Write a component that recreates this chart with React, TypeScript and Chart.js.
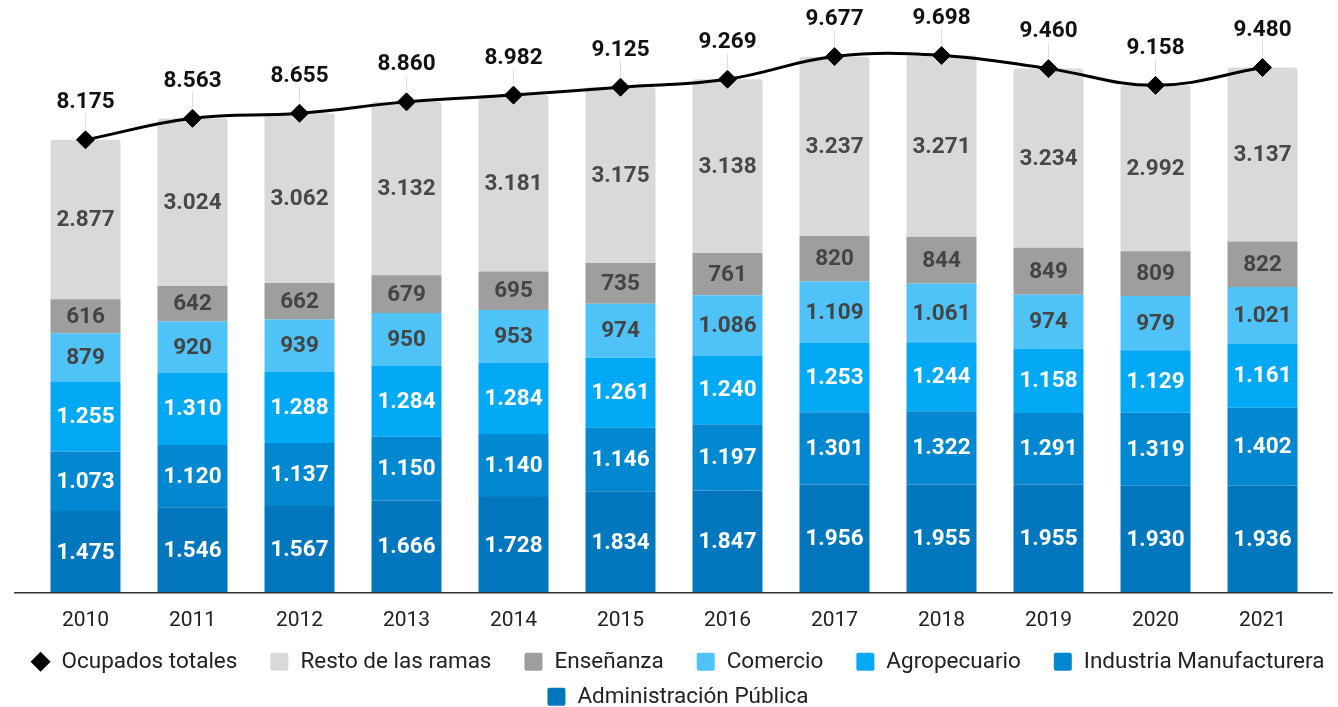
import React, { useEffect, useRef } from 'react';
import { Chart, registerables } from 'chart.js';

Chart.register(...registerables);

const years = ['2010', '2011', '2012', '2013', '2014', '2015', '2016', '2017', '2018', '2019', '2020', '2021'];
const administracion = [1475, 1546, 1567, 1666, 1728, 1834, 1847, 1956, 1955, 1955, 1930, 1936];
const industria = [1073, 1120, 1137, 1150, 1140, 1146, 1197, 1301, 1322, 1291, 1319, 1402];
const agropecuario = [1255, 1310, 1288, 1284, 1284, 1261, 1240, 1253, 1244, 1158, 1129, 1161];
const comercio = [879, 920, 939, 950, 953, 974, 1086, 1109, 1061, 974, 979, 1021];
const ensenanza = [616, 642, 662, 679, 695, 735, 761, 820, 844, 849, 809, 822];
const resto = [2877, 3024, 3062, 3132, 3181, 3175, 3138, 3237, 3271, 3234, 2992, 3137];
const totales = [8175, 8563, 8655, 8860, 8982, 9125, 9269, 9677, 9698, 9460, 9158, 9480];

const FONT = 'Roboto';
const fmt = (n: number) => String(n).replace(/\B(?=(\d{3})+(?!\d))/g, '.');

const labelColors: Record<string, string> = {
  'Administración Pública': '#ffffff',
  'Industria Manufacturera': '#ffffff',
  'Agropecuario': '#ffffff',
  'Comercio': '#444444',
  'Enseñanza': '#444444',
  'Resto de las ramas': '#484848',
};

const axisLinePlugin = {
  id: 'axisLine',
  afterDatasetsDraw(chart: any) {
    const { ctx, chartArea } = chart;
    ctx.save();
    ctx.strokeStyle = '#333333';
    ctx.lineWidth = 1.5;
    ctx.beginPath();
    ctx.moveTo(chartArea.left - 18, chartArea.bottom);
    ctx.lineTo(chartArea.right + 17, chartArea.bottom);
    ctx.stroke();
    ctx.restore();
  },
};

const valueLabelsPlugin = {
  id: 'valueLabels',
  afterDatasetsDraw(chart: any) {
    const ctx = chart.ctx;
    ctx.save();
    ctx.font = `bold 22.5px ${FONT}`;
    ctx.textAlign = 'center';
    ctx.textBaseline = 'middle';
    chart.data.datasets.forEach((ds: any, i: number) => {
      const meta = chart.getDatasetMeta(i);
      if (ds.type === 'line') {
        meta.data.forEach((pt: any, j: number) => {
          const { x, y } = pt.getProps(['x', 'y'], true);
          ctx.strokeStyle = '#dddddd';
          ctx.lineWidth = 1;
          ctx.beginPath();
          ctx.moveTo(x, y - 26);
          ctx.lineTo(x, y - 11);
          ctx.stroke();
          ctx.fillStyle = '#111111';
          ctx.fillText(fmt(ds.data[j]), x, y - 37);
        });
      } else {
        meta.data.forEach((bar: any, j: number) => {
          const { x, y, base } = bar.getProps(['x', 'y', 'base'], true);
          ctx.fillStyle = labelColors[ds.label] || '#ffffff';
          ctx.fillText(fmt(ds.data[j]), x, (y + base) / 2 + 1);
        });
      }
    });
    ctx.restore();
  },
};

const customLegendPlugin = {
  id: 'customLegend',
  afterDraw(chart: any) {
    const { ctx, chartArea } = chart;
    const ds = chart.data.datasets;
    const lineDs = ds.filter((d: any) => d.type === 'line');
    const barDs = ds.filter((d: any) => d.type !== 'line').slice().reverse();
    const items = [
      ...lineDs.map((d: any) => ({ text: d.label, color: d.borderColor, diamond: true })),
      ...barDs.map((d: any) => ({ text: d.label, color: d.backgroundColor, diamond: false })),
    ];
    ctx.save();
    ctx.font = `22.5px ${FONT}`;
    ctx.textBaseline = 'middle';
    ctx.textAlign = 'left';
    const box = 18;
    const gap = 12;
    const spacing = 33;
    const maxW = chart.width - 8;
    const widths = items.map((it: any) => box + gap + ctx.measureText(it.text).width);
    const rows: number[][] = [];
    let cur: number[] = [];
    let curW = 0;
    items.forEach((_: any, i: number) => {
      const w = widths[i] + (cur.length ? spacing : 0);
      if (cur.length && curW + w > maxW) {
        rows.push(cur);
        cur = [];
        curW = 0;
      }
      curW += cur.length ? widths[i] + spacing : widths[i];
      cur.push(i);
    });
    if (cur.length) rows.push(cur);
    const cx = chart.width / 2 + 9;
    rows.forEach((row, r) => {
      const total = row.reduce((s, i) => s + widths[i], 0) + spacing * (row.length - 1);
      let x = cx - total / 2;
      const y = chartArea.bottom + 69 + r * 35;
      row.forEach((i) => {
        const it = items[i];
        ctx.fillStyle = it.color;
        if (it.diamond) {
          const c = x + box / 2;
          ctx.beginPath();
          ctx.moveTo(c, y - 10);
          ctx.lineTo(c + 10, y);
          ctx.lineTo(c, y + 10);
          ctx.lineTo(c - 10, y);
          ctx.closePath();
          ctx.fill();
        } else {
          ctx.beginPath();
          (ctx as any).roundRect(x, y - box / 2, box, box, 2);
          ctx.fill();
        }
        ctx.fillStyle = '#222222';
        ctx.fillText(it.text, x + box + gap, y + 1);
        x += widths[i] + spacing;
      });
    });
    ctx.restore();
  },
};

export default function App() {
  const canvasRef = useRef<HTMLCanvasElement | null>(null);

  useEffect(() => {
    if (!canvasRef.current) return;
    Chart.defaults.font.family = FONT;
    const barCommon = {
      type: 'bar' as const,
      stack: 'ramas',
      borderWidth: 0,
      categoryPercentage: 1,
      barPercentage: 0.654,
    };
    const chart = new Chart(canvasRef.current, {
      type: 'bar',
      data: {
        labels: years,
        datasets: [
          {
            type: 'line',
            label: 'Ocupados totales',
            data: totales,
            stack: 'total',
            borderColor: '#000000',
            backgroundColor: '#000000',
            borderWidth: 3,
            tension: 0.4,
            fill: false,
            pointStyle: 'rectRot',
            pointRadius: 9,
            pointBackgroundColor: '#000000',
            pointBorderColor: '#000000',
            pointBorderWidth: 1,
          } as any,
          { ...barCommon, label: 'Administración Pública', data: administracion, backgroundColor: '#0277bd' },
          { ...barCommon, label: 'Industria Manufacturera', data: industria, backgroundColor: '#0288d1' },
          { ...barCommon, label: 'Agropecuario', data: agropecuario, backgroundColor: '#03a9f4' },
          { ...barCommon, label: 'Comercio', data: comercio, backgroundColor: '#4fc3f7' },
          { ...barCommon, label: 'Enseñanza', data: ensenanza, backgroundColor: '#9e9e9e' },
          {
            ...barCommon,
            label: 'Resto de las ramas',
            data: resto,
            backgroundColor: '#d9d9d9',
            borderRadius: { topLeft: 3, topRight: 3, bottomLeft: 0, bottomRight: 0 },
            borderSkipped: 'bottom',
          },
        ],
      },
      options: {
        animation: false,
        responsive: true,
        maintainAspectRatio: false,
        layout: { padding: { left: 32, right: 22, top: 11, bottom: 59 } },
        plugins: {
          legend: { display: false },
          tooltip: { enabled: false },
        },
        scales: {
          x: {
            stacked: true,
            grid: { display: false, drawTicks: false },
            border: { display: false },
            ticks: { padding: 15, color: '#222222', font: { family: FONT, size: 21 } },
          },
          y: {
            stacked: true,
            display: false,
            min: 0,
            max: 10500,
          },
        },
      },
      plugins: [axisLinePlugin, valueLabelsPlugin, customLegendPlugin],
    });
    return () => chart.destroy();
  }, []);

  return (
    <div style={{ position: 'fixed', left: 0, top: 0, width: 1338, height: 707, background: '#ffffff' }}>
      <canvas ref={canvasRef} />
    </div>
  );
}
